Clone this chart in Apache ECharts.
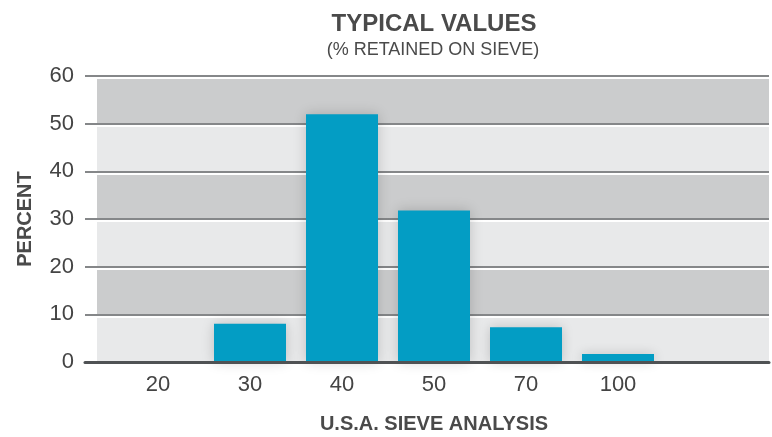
<!DOCTYPE html>
<html><head><meta charset="utf-8">
<script src="https://cdn.jsdelivr.net/npm/echarts@6/dist/echarts.min.js"></script>
<style>html,body{margin:0;padding:0;background:#fff}#c{width:772px;height:437px}</style>
</head><body><div id="c"></div>
<script>
const categories = ['20', '30', '40', '50', '70', '100', ''];
const percentValues = [0, 8.0, 52.0, 31.8, 7.3, 1.7, 0];
const yTicks = { min: 0, max: 60, interval: 10 };
const titleText = 'TYPICAL VALUES';
const subtitleText = '(% RETAINED ON SIEVE)';
const xName = 'U.S.A. SIEVE ANALYSIS';
const yName = 'PERCENT';

const FONT = '"Liberation Sans", Arial, Helvetica, sans-serif';
const chart = echarts.init(document.getElementById('c'), null, { renderer: 'canvas' });
const gTop = 76, gBottom = 75;
const gridBase = { top: gTop, bottom: gBottom, containLabel: false, outerBoundsMode: 'none' };
chart.setOption({
  animation: false,
  title: [
    { text: titleText, left: 429, top: 7, textAlign: 'center',
      textStyle: { fontFamily: FONT, fontWeight: 'bold', fontSize: 24, color: '#4a4a4a' } },
    { text: subtitleText, left: 428, top: 36, textAlign: 'center',
      textStyle: { fontFamily: FONT, fontWeight: 'normal', fontSize: 18, color: '#4a4a4a' } }
  ],
  grid: [
    Object.assign({ left: 97, right: 3 }, gridBase),   // bands
    Object.assign({ left: 85, right: 3 }, gridBase),   // lines + y labels
    Object.assign({ left: 112, right: 16 }, gridBase)  // bars
  ],
  xAxis: [
    { gridIndex: 0, type: 'value', show: false, min: 0, max: 1 },
    { gridIndex: 1, type: 'value', min: 0, max: 1, z: 3,
      axisLine: { show: true, onZero: false, lineStyle: { color: '#4f5254', width: 3 } },
      axisTick: { show: false }, axisLabel: { show: false }, splitLine: { show: false } },
    { gridIndex: 2, type: 'category', data: categories, z: 3,
      axisLine: { show: false }, axisTick: { show: false },
      axisLabel: { fontFamily: FONT, fontSize: 22, color: '#444', margin: 12 },
      name: xName, nameLocation: 'middle', nameGap: 52,
      nameTextStyle: { fontFamily: FONT, fontWeight: 'bold', fontSize: 20, color: '#4a4a4a' } }
  ],
  yAxis: [
    { gridIndex: 0, type: 'value', min: yTicks.min, max: yTicks.max, interval: yTicks.interval, z: 0,
      axisLine: { show: false }, axisTick: { show: false }, axisLabel: { show: false },
      splitLine: { show: false },
      splitArea: { show: true, areaStyle: { color: ['#e8e9ea', '#cbcccd'] } } },
    { gridIndex: 1, type: 'value', min: yTicks.min, max: yTicks.max, interval: yTicks.interval, z: 1,
      axisLine: { show: false }, axisTick: { show: false },
      axisLabel: { fontFamily: FONT, fontSize: 22, color: '#444', margin: 11 },
      splitLine: { show: true, lineStyle: { color: '#858789', width: 2, shadowColor: '#ffffff', shadowOffsetY: 2, shadowBlur: 0 } },
      name: yName, nameLocation: 'middle', nameGap: 50, nameRotate: 90,
      nameTextStyle: { fontFamily: FONT, fontWeight: 'bold', fontSize: 20, color: '#4a4a4a' } },
    { gridIndex: 2, type: 'value', min: yTicks.min, max: yTicks.max, interval: yTicks.interval, show: false }
  ],
  series: [{
    type: 'bar', xAxisIndex: 2, yAxisIndex: 2, data: percentValues,
    barWidth: 72, z: 2,
    itemStyle: { color: '#039dc4', shadowColor: 'rgba(0,0,0,0.18)', shadowBlur: 12 }
  }]
});
</script></body></html>
